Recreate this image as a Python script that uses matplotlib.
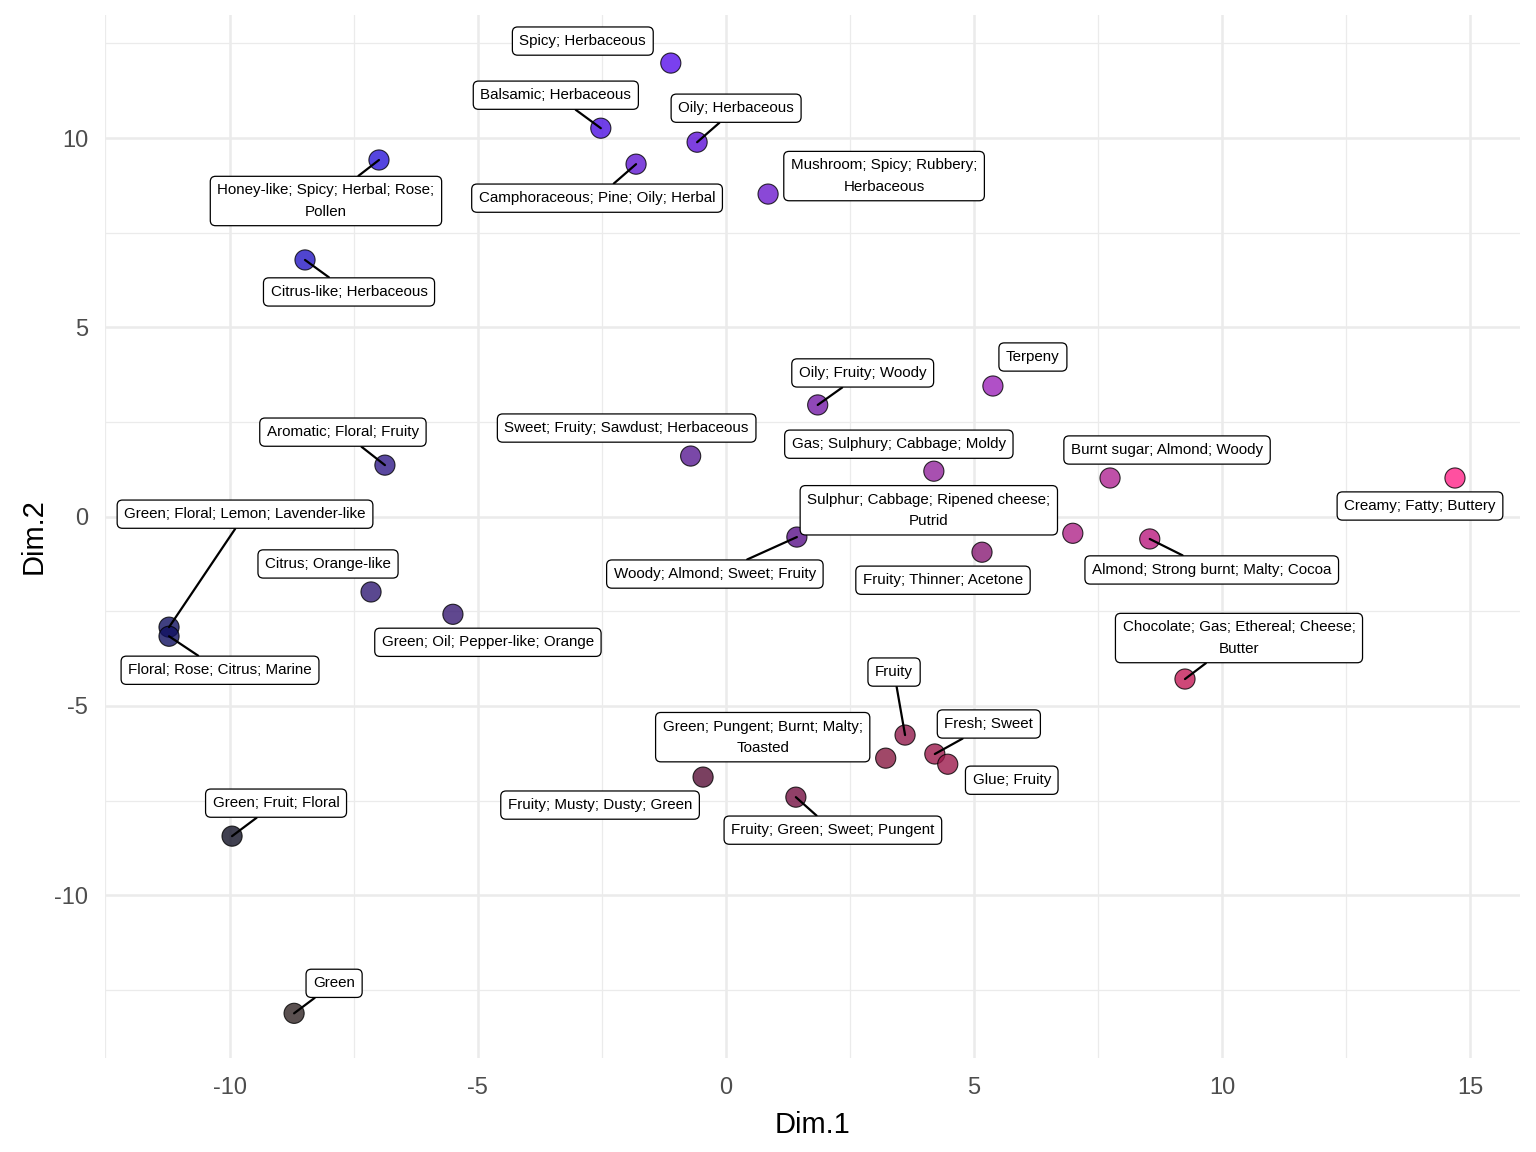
import matplotlib
matplotlib.use("Agg")
import matplotlib.pyplot as plt
from matplotlib.ticker import MultipleLocator
import matplotlib.colors as mcolors

plt.rcParams['font.family'] = ['Liberation Sans', 'DejaVu Sans']
plt.rcParams['axes.unicode_minus'] = False

# ---------------- data ----------------
labels = [
    "Spicy; Herbaceous", "Balsamic; Herbaceous", "Oily; Herbaceous",
    "Camphoraceous; Pine; Oily; Herbal", "Mushroom; Spicy; Rubbery;\nHerbaceous",
    "Honey-like; Spicy; Herbal; Rose;\nPollen", "Citrus-like; Herbaceous", "Terpeny",
    "Oily; Fruity; Woody", "Aromatic; Floral; Fruity", "Sweet; Fruity; Sawdust; Herbaceous",
    "Gas; Sulphury; Cabbage; Moldy", "Burnt sugar; Almond; Woody", "Creamy; Fatty; Buttery",
    "Sulphur; Cabbage; Ripened cheese;\nPutrid", "Almond; Strong burnt; Malty; Cocoa",
    "Woody; Almond; Sweet; Fruity", "Fruity; Thinner; Acetone",
    "Green; Floral; Lemon; Lavender-like", "Floral; Rose; Citrus; Marine",
    "Citrus; Orange-like", "Green; Oil; Pepper-like; Orange",
    "Chocolate; Gas; Ethereal; Cheese;\nButter", "Fruity", "Fresh; Sweet", "Glue; Fruity",
    "Green; Pungent; Burnt; Malty;\nToasted", "Fruity; Musty; Dusty; Green",
    "Fruity; Green; Sweet; Pungent", "Green; Fruit; Floral", "Green",
]
dim1 = [-1.11, -2.52, -0.58, -1.81, 0.85, -6.99, -8.48, 5.38, 1.85, -6.87, -0.71,
        4.19, 7.74, 14.69, 6.99, 8.54, 1.43, 5.16, -11.22, -11.22, -7.15, -5.50,
        9.25, 3.61, 4.21, 4.47, 3.22, -0.46, 1.41, -9.95, -8.70]
dim2 = [11.98, 10.26, 9.89, 9.31, 8.52, 9.42, 6.78, 3.45, 2.95, 1.36, 1.60,
        1.20, 1.02, 1.02, -0.44, -0.59, -0.54, -0.94, -2.92, -3.16, -1.99, -2.58,
        -4.29, -5.77, -6.27, -6.54, -6.38, -6.88, -7.41, -8.44, -13.12]
# displayed point colours (as seen on white)
seen_colors = ["#7a40f0", "#7040e8", "#7e40e0", "#8045dc", "#8a48d8", "#5545e0",
               "#5045d0", "#b050c8", "#9048b8", "#5a48a0", "#7a48a8", "#a850b0",
               "#c050a8", "#ff50a0", "#c050a0", "#c84898", "#7a40a0", "#a04890",
               "#404080", "#404080", "#5a4890", "#60488f", "#d04878", "#a84870",
               "#b04870", "#b04870", "#a04868", "#7a4060", "#904068", "#404050",
               "#5a5050"]

# ---------------- layout (label offsets in pixels, segment flags) ----------------
offsets = [(-88, 22), (-45, 33), (39, 34), (-39, -34), (116, 18), (-53, -41), (44, -32),
           (40, 29), (45, 32), (-42, 33), (-64, 28), (-35, 27), (57, 28), (-35, -28),
           (-144, 23), (62, -31), (-82, -37), (-39, -28), (76, 113), (51, -34), (-43, 28),
           (35, -28), (54, 41), (-11, 63), (54, 30), (64, -16), (-123, 21), (-103, -28),
           (37, -33), (44, 33), (40, 30)]
segments = [False, True, True, True, False, True, True, False, True, True, False,
            False, False, False, False, True, True, False, True, True, False, False,
            True, True, True, False, False, False, True, True, True]

ALPHA = 0.8
def base_color(hexc):
    r, g, b = mcolors.to_rgb(hexc)
    f = lambda v: min(1.0, max(0.0, (v - (1 - ALPHA)) / ALPHA))
    return (f(r), f(g), f(b))

fig = plt.figure(figsize=(15.36, 11.52), dpi=100)
ax = fig.add_axes([105/1536, 1 - 1058/1152, (1520-105)/1536, (1058-15)/1152])

ax.set_xlim(-12.51, 16.0)
ax.set_ylim(-14.3, 13.25)
ax.xaxis.set_major_locator(MultipleLocator(5))
ax.yaxis.set_major_locator(MultipleLocator(5))
ax.xaxis.set_minor_locator(MultipleLocator(2.5))
ax.yaxis.set_minor_locator(MultipleLocator(2.5))
ax.grid(which='major', color='#ebebeb', lw=1.8, zorder=0)
ax.grid(which='minor', color='#ebebeb', lw=0.9, zorder=0)
ax.set_axisbelow(True)
for s in ax.spines.values():
    s.set_visible(False)
ax.tick_params(which='both', length=0)
ax.tick_params(axis='x', pad=14, labelsize=17, labelcolor='#4d4d4d')
ax.tick_params(axis='y', pad=12, labelsize=17, labelcolor='#4d4d4d')
ax.set_xlabel("Dim.1", fontsize=21, labelpad=8)
ax.set_ylabel("Dim.2", fontsize=21, labelpad=5)

ax.scatter(dim1, dim2, s=210, c=[base_color(c) for c in seen_colors], alpha=ALPHA,
           edgecolors='black', linewidths=0.8, zorder=3)

for lab, x, y, off, seg in zip(labels, dim1, dim2, offsets, segments):
    kw = {}
    if seg:
        kw['arrowprops'] = dict(arrowstyle='-', color='black', lw=1.6,
                                shrinkA=0, shrinkB=0)
    ax.annotate(lab, xy=(x, y), xytext=off, textcoords='offset pixels',
                ha='center', va='center', fontsize=10.9, linespacing=1.65,
                bbox=dict(boxstyle='round,pad=0.47,rounding_size=0.35', fc='white',
                          ec='black', lw=0.9),
                zorder=4, **kw)

fig.savefig("out.png", dpi=100)
